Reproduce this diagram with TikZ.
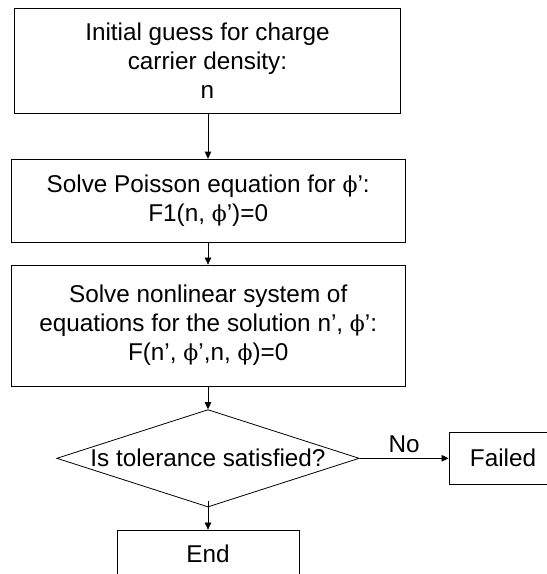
\documentclass[tikz,border=0pt]{standalone}
\usepackage{fontspec}
\setmainfont{Liberation Sans}
\newfontfamily\phifont{DejaVu Serif}
\newcommand{\myphi}{{\phifont\fontsize{22}{29}\selectfont ϕ}}
\usetikzlibrary{shapes.geometric,arrows.meta}
\begin{document}
\begin{tikzpicture}[x=1pt,y=1pt,
  font=\fontsize{24.3}{29}\selectfont,
  box/.style={draw=black, line width=0.8pt, inner sep=0pt, align=center},
  decision/.style={draw=black, line width=0.8pt, diamond, inner sep=0pt,
    minimum width=302.5pt, minimum height=97.4pt},
  flow/.style={draw=black, line width=0.7pt, -{Triangle[length=7pt,width=6.5pt]}}]
\clip (0,0) rectangle (547,-574);
\useasboundingbox (0,0) rectangle (547,-574);
\node[box, minimum width=386pt, minimum height=105pt] (b1) at (207.5,-60.5)
  {Initial guess for charge\\carrier density:\\n};
\node[box, minimum width=393.5pt, minimum height=83.5pt] (b2) at (208.2,-200.8)
  {Solve Poisson equation for \myphi’:\\F1(n, \myphi’)=0};
\node[box, minimum width=393.7pt, minimum height=121pt] (b3) at (208.2,-325.5)
  {Solve nonlinear system of\\equations for the solution n’, \myphi’:\\F(n’, \myphi’,n, \myphi)=0};
\node[decision, label={center:Is tolerance satisfied?}] (dia) at (208,-458.3) {};
\node[box, minimum width=108pt, minimum height=52pt] (fail) at (503,-458.3) {Failed};
\node[box, minimum width=182pt, minimum height=48pt] (end) at (208,-554) {End};
\draw[flow] (b1.south -| dia.north) -- (b2.north -| dia.north);
\draw[flow] (b2.south -| dia.north) -- (b3.north -| dia.north);
\draw[flow] (b3.south -| dia.north) -- (dia.north);
\draw[flow] ([yshift=6pt]dia.south) -- (end.north);
\draw[flow] (dia.east) -- node[above, inner sep=0pt, yshift=5.5pt] {No} (fail.west);
\end{tikzpicture}
\end{document}
